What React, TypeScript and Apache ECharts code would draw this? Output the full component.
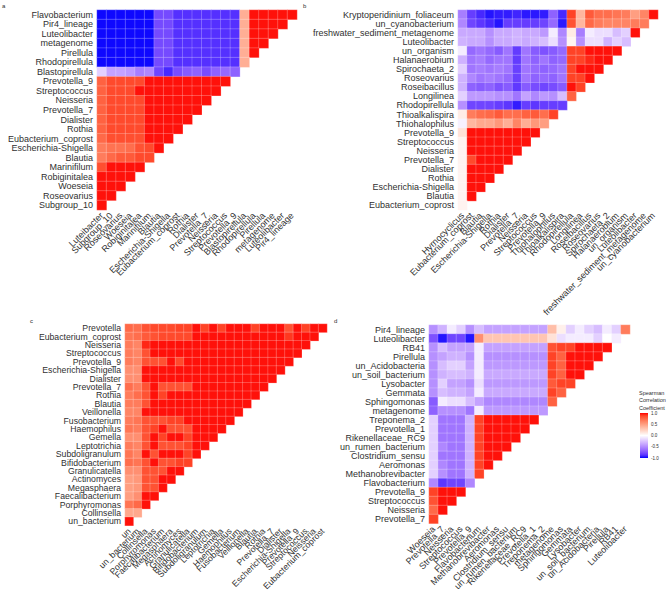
import React, { useEffect, useRef } from "react";
import * as echarts from "echarts";

const R = 0.97;

// ---------- Panel a ----------
const aCols = ["Luteibacter", "Subgroup_10", "Roseovarius", "Woeseia", "Robiginitalea", "Marinifilum", "Blautia", "Escherichia-Shigella", "Eubacterium_coprost", "Rothia", "Dialister", "Prevotella_7", "Neisseria", "Streptococcus", "Prevotella_9", "Blastopirellula", "Rhodopirellula", "Pirellula", "metagenome", "Luteolibacter", "Pir4_lineage"];
const aRows = ["Flavobacterium", "Pir4_lineage", "Luteolibacter", "metagenome", "Pirellula", "Rhodopirellula", "Blastopirellula", "Prevotella_9", "Streptococcus", "Neisseria", "Prevotella_7", "Dialister", "Rothia", "Eubacterium_coprost", "Escherichia-Shigella", "Blautia", "Marinifilum", "Robiginitalea", "Woeseia", "Roseovarius", "Subgroup_10"];
const aVals = [
  [-0.98, -0.98, -0.98, -0.98, -0.98, -0.98, -0.78, -0.78, -0.88, -0.88, -0.88, -0.88, -0.88, -0.88, -0.88, 0.42, R, R, R, R, R],
  [-0.98, -0.98, -0.98, -0.98, -0.98, -0.98, -0.78, -0.78, -0.88, -0.88, -0.88, -0.88, -0.88, -0.88, -0.88, 0.42, R, R, R, R],
  [-0.98, -0.98, -0.98, -0.98, -0.98, -0.98, -0.78, -0.78, -0.88, -0.88, -0.88, -0.88, -0.88, -0.88, -0.88, 0.42, R, R, R],
  [-0.98, -0.98, -0.98, -0.98, -0.98, -0.98, -0.78, -0.78, -0.88, -0.88, -0.88, -0.88, -0.88, -0.88, -0.88, 0.42, R, R],
  [-0.98, -0.98, -0.98, -0.98, -0.98, -0.98, -0.78, -0.78, -0.88, -0.88, -0.88, -0.88, -0.88, -0.88, -0.88, 0.42, R],
  [-0.98, -0.98, -0.98, -0.98, -0.98, -0.98, -0.78, -0.78, -0.88, -0.88, -0.88, -0.88, -0.88, -0.88, -0.88, 0.42],
  [-0.2, -0.4, -0.4, -0.44, -0.56, -0.52, -0.8, -0.9, -0.77, -0.71, -0.68, -0.77, -0.68, -0.65, -0.68],
  [0.77, 0.86, 0.86, 0.86, 0.86, R, R, R, R, R, R, R, R, R],
  [0.77, 0.86, 0.86, 0.86, R, R, R, R, R, R, R, R, R],
  [0.77, 0.86, 0.86, 0.86, 0.86, R, R, R, R, R, R, R],
  [0.77, 0.86, 0.86, 0.86, 0.86, R, R, R, R, R, R],
  [0.77, 0.86, 0.86, 0.86, 0.86, R, R, R, R, R],
  [0.77, 0.86, 0.86, 0.86, 0.86, R, R, R, R],
  [0.74, 0.84, 0.84, 0.84, 0.84, R, R, R],
  [0.66, 0.7, 0.7, 0.72, 0.83, 0.86, R],
  [0.66, 0.74, 0.8, 0.8, 0.86, 0.86],
  [0.84, R, R, R, R],
  [R, R, R, R],
  [R, R, R],
  [R, R],
  [R],
];

// ---------- Panel b ----------
const bCols = ["Hyrnocyclicus", "Eubacterium_coprost", "Blautia", "Escherichia-Shigella", "Rothia", "Dialister", "Prevotella_7", "Neisseria", "Streptococcus", "Prevotella_9", "Thiohalophilus", "Thioalkalispira", "Rhodopirellula", "Longilinea", "Roseibacillus", "Roseovarius", "Spirochaeta_2", "Halanaerobium", "un_organism", "Luteolibacter", "freshwater_sediment_metagenome", "un_cyanobacterium"];
const bRows = ["Kryptoperidinium_foliaceum", "un_cyanobacterium", "freshwater_sediment_metagenome", "Luteolibacter", "un_organism", "Halanaerobium", "Spirochaeta_2", "Roseovarius", "Roseibacillus", "Longilinea", "Rhodopirellula", "Thioalkalispira", "Thiohalophilus", "Prevotella_9", "Streptococcus", "Neisseria", "Prevotella_7", "Dialister", "Rothia", "Escherichia-Shigella", "Blautia", "Eubacterium_coprost"];
const bVals = [
  [-0.56, -0.83, -0.9, -0.95, -0.93, -0.93, -0.91, -0.94, -0.94, -0.93, -0.68, -0.9, 0.88, 0.38, 0.8, 0.72, 0.72, 0.69, 0.66, 0.5, 0.62, R],
  [-0.52, -0.8, -0.86, -0.9, -0.95, -0.83, -0.83, -0.83, -0.83, -0.8, -0.65, -0.94, 0.83, 0.38, 0.74, 0.66, 0.62, 0.62, 0.62, 0.66, 0.66],
  [-0.37, -0.37, -0.37, -0.48, -0.37, -0.37, -0.33, -0.37, -0.37, -0.44, -0.08, -0.52, 0.1, -0.56, -0.08, -0.14, -0.14, -0.28, -0.2, R],
  [-0.33, -0.37, -0.37, -0.48, -0.37, -0.37, -0.33, -0.37, -0.33, -0.28, -0.14, -0.48, 0.05, -0.48, -0.14, -0.14, -0.33, -0.2, -0.28],
  [-0.08, -0.65, -0.6, -0.65, -0.71, -0.6, -0.84, -0.6, -0.71, -0.75, -0.71, -0.65, 0.88, 0.88, R, R, R, R],
  [-0.33, -0.6, -0.56, -0.65, -0.6, -0.6, -0.84, -0.6, -0.68, -0.6, -0.68, -0.65, 0.88, 0.88, 0.93, R, R],
  [-0.2, -0.6, -0.56, -0.6, -0.56, -0.6, -0.82, -0.6, -0.65, -0.68, -0.65, -0.6, 0.88, R, R, R],
  [-0.33, -0.52, -0.6, -0.56, -0.6, -0.65, -0.82, -0.6, -0.68, -0.65, -0.68, -0.6, 0.88, 0.88, R],
  [-0.33, -0.68, -0.71, -0.68, -0.75, -0.71, -0.85, -0.71, -0.77, -0.8, -0.77, -0.71, R, 0.88],
  [-0.2, -0.44, -0.44, -0.44, -0.48, -0.48, -0.6, -0.4, -0.52, -0.44, -0.48, -0.28, 0.77],
  [-0.48, -0.8, -0.8, -0.8, -0.83, -0.86, -0.93, -0.83, -0.86, -0.83, -0.83, -0.83],
  [0.1, 0.66, 0.72, 0.74, 0.8, 0.72, 0.72, 0.77, 0.8, 0.72, 0.88],
  [-0.06, 0.38, 0.45, 0.45, 0.53, 0.42, 0.62, 0.42, 0.53, 0.5],
  [0.15, R, R, R, R, R, R, R, R],
  [0.06, R, R, R, R, R, R, R],
  [0.06, R, R, R, R, R, R],
  [0.06, 0.86, R, R, R, R],
  [0.06, R, R, R, R],
  [0.06, R, R, R],
  [0.06, R, R],
  [0.06, R],
  [0.06],
];

// ---------- Panel c ----------
const cCols = ["un", "un_bacterium", "Collinsella", "Porphyromonas", "Faecalibacterium", "Megasphaera", "Actinomyces", "Granulicatella", "Bifidobacterium", "Subdoligranulum", "Leptotrichia", "Gemella", "Haemophilus", "Fusobacterium", "Veillonella", "Blautia", "Rothia", "Prevotella_7", "Dialister", "Escherichia-Shigella", "Prevotella_9", "Streptococcus", "Neisseria", "Eubacterium_coprost"];
const cRows = ["Prevotella", "Eubacterium_coprost", "Neisseria", "Streptococcus", "Prevotella_9", "Escherichia-Shigella", "Dialister", "Prevotella_7", "Rothia", "Blautia", "Veillonella", "Fusobacterium", "Haemophilus", "Gemella", "Leptotrichia", "Subdoligranulum", "Bifidobacterium", "Granulicatella", "Actinomyces", "Megasphaera", "Faecalibacterium", "Porphyromonas", "Collinsella", "un_bacterium"];
const cVals = [
  [0.74, 0.72, 0.83, 0.86, 0.86, 0.86, 0.88, 0.88, R, 0.88, R, 0.88, R, R, R, 0.88, R, R, R, 0.83, R, 0.88, R, R],
  [0.69, 0.72, 0.8, 0.83, 0.86, 0.86, 0.86, 0.86, R, R, R, R, R, R, R, R, R, R, R, 0.9, R, R, R],
  [0.66, 0.62, 0.93, R, R, R, R, R, R, R, R, R, R, R, R, R, R, R, R, R, R, R],
  [0.66, 0.62, 0.83, R, R, R, R, R, R, R, R, R, R, R, R, R, R, R, R, R, R],
  [0.66, 0.62, 0.83, 0.83, 0.83, R, 0.86, R, R, R, R, R, R, R, R, R, R, R, R, R],
  [0.57, 0.57, R, R, R, R, R, R, R, R, R, R, R, R, R, R, R, R, R],
  [0.57, 0.57, R, R, R, R, R, R, R, R, R, R, R, R, R, R, R, R],
  [0.72, 0.66, 0.83, R, 0.83, 0.83, 0.83, 0.83, R, R, R, R, R, R, R, R, R],
  [0.66, 0.72, 0.83, R, 0.88, R, R, R, R, R, R, R, R, R, R, R],
  [0.66, 0.66, 0.83, R, R, R, R, R, R, R, R, R, R, R, R],
  [0.62, 0.62, R, R, R, R, R, R, R, R, R, R, R, R],
  [0.66, 0.69, 0.83, 0.83, 0.83, 0.88, 0.88, R, R, R, R, R, R],
  [0.69, 0.66, 0.83, 0.88, R, 0.83, 0.83, 0.83, R, R, R, R],
  [0.57, 0.57, 0.83, R, 0.88, R, R, 0.88, R, R, R],
  [0.66, 0.62, 0.83, R, 0.83, 0.83, 0.83, 0.88, R, R],
  [0.69, 0.62, R, 0.83, R, R, R, 0.88, R],
  [0.72, 0.69, 0.83, R, 0.83, 0.83, 0.88, 0.88],
  [0.57, 0.57, 0.83, 0.83, 0.83, R, R],
  [0.5, 0.53, 0.83, 0.83, R, R],
  [0.5, 0.53, 0.83, 0.83, R],
  [0.5, 0.57, R, R],
  [0.69, 0.74, R],
  [0.45, 0.45],
  [R],
];

// ---------- Panel d ----------
const dCols = ["Woeseia", "Prevotella_7", "Neisseria", "Streptococcus", "Prevotella_9", "Flavobacterium", "Methanobrevibacter", "Aeromonas", "Clostridium_sensu", "un_rumen_bacterium", "Rikenellaceae_RC9", "Prevotella_1", "Treponema_2", "metagenome", "Sphingomonas", "Gemmata", "Lysobacter", "un_soil_bacterium", "un_Acidobacteria", "Pirellula", "RB41", "Luteolibacter"];
const dRows = ["Pir4_lineage", "Luteolibacter", "RB41", "Pirellula", "un_Acidobacteria", "un_soil_bacterium", "Lysobacter", "Gemmata", "Sphingomonas", "metagenome", "Treponema_2", "Prevotella_1", "Rikenellaceae_RC9", "un_rumen_bacterium", "Clostridium_sensu", "Aeromonas", "Methanobrevibacter", "Flavobacterium", "Prevotella_9", "Streptococcus", "Neisseria", "Prevotella_7"];
const dVals = [
  [-0.48, -0.33, -0.08, -0.2, -0.48, -0.28, -0.4, -0.4, -0.4, -0.4, -0.4, -0.4, -0.4, 0.34, 0.08, -0.2, -0.08, -0.2, -0.28, -0.08, -0.2, 0.66],
  [-0.75, -0.95, -0.8, -0.8, -0.95, 0.57, 0.3, 0.3, 0.3, 0.3, 0.3, 0.3, 0.3, 0.15, -0.14, -0.08, -0.08, -0.08, -0.2, 0, -0.08],
  [-0.48, -0.28, -0.4, -0.4, -0.4, -0.08, -0.4, -0.4, -0.4, -0.4, -0.4, -0.4, -0.4, 0.83, 0.88, 0.88, R, R, R, R],
  [-0.48, -0.4, -0.33, -0.33, -0.48, -0.08, -0.48, -0.48, -0.48, -0.48, -0.48, -0.48, -0.48, 0.88, 0.77, R, R, R, R],
  [-0.48, -0.28, -0.2, -0.2, -0.4, -0.08, -0.44, -0.44, -0.44, -0.44, -0.44, -0.44, -0.44, 0.88, 0.77, R, R, R],
  [-0.48, -0.33, -0.28, -0.28, -0.33, -0.08, -0.37, -0.37, -0.37, -0.37, -0.37, -0.37, -0.37, 0.88, 0.77, R, R],
  [-0.48, -0.2, -0.4, -0.4, -0.48, -0.14, -0.44, -0.44, -0.44, -0.44, -0.44, -0.44, -0.44, 0.8, 0.88, 0.88],
  [-0.48, -0.28, -0.33, -0.33, -0.4, -0.08, -0.37, -0.37, -0.37, -0.37, -0.37, -0.37, -0.37, 0.88, 0.77],
  [-0.71, -0.08, -0.14, -0.14, -0.28, -0.4, -0.52, -0.52, -0.52, -0.52, -0.52, -0.52, -0.52, 0.77],
  [-0.68, -0.48, -0.48, -0.48, -0.6, -0.08, -0.44, -0.44, -0.44, -0.44, -0.44, -0.44, -0.44],
  [-0.2, -0.6, -0.6, -0.6, -0.33, 0.88, R, R, R, R, R, R],
  [-0.2, -0.6, -0.6, -0.6, -0.33, 0.88, R, R, R, R, R],
  [-0.2, -0.6, -0.6, -0.6, -0.33, 0.88, R, R, R, R],
  [-0.2, -0.52, -0.6, -0.6, -0.33, 0.88, R, R, R],
  [-0.2, -0.6, -0.6, -0.6, -0.33, 0.88, R, R],
  [-0.2, -0.52, -0.6, -0.6, -0.33, 0.88, R],
  [-0.2, -0.48, -0.6, -0.6, -0.33, 0.88],
  [-0.52, -0.86, -0.8, -0.8, -0.52],
  [0.88, R, R, R],
  [0.83, R, R],
  [0.74, R],
  [0.88],
];

// ---------- Legend ----------
const legendTitle = "Spearman\nCorrelation\nCoefficient";
const legendTicks = ["1.0", "0.5", "0.0", "-0.5", "-1.0"];
// blue - white - red gradient (Lab-interpolated stops, evenly spaced from -1 to 1)
const scaleColors = [
  "#0000FF", "#5932FF", "#7E51FF", "#9B6FFF", "#B38BFF", "#C8A8FF", "#DCC4FF", "#EEE2FF",
  "#FFFFFF",
  "#FFE7DF", "#FFCFBE", "#FFB7A0", "#FF9E81", "#FF8464", "#FF6746", "#FF4628", "#FF0000",
];
const panelLetters = ["a", "b", "c", "d"];

const FONT = "Liberation Sans, Arial, Helvetica, sans-serif";
const TXT = "#303030";

function toCells(vals: number[][]) {
  const out: number[][] = [];
  vals.forEach((row, r) => row.forEach((v, c) => out.push([c, r, v])));
  return out;
}

const panels = [
  { cols: aCols, rows: aRows, vals: aVals, left: 97, top: 10, w: 200, h: 200, lx: 2, ly: 3, fs: 9 },
  { cols: bCols, rows: bRows, vals: bVals, left: 458, top: 10, w: 200, h: 200, lx: 303, ly: 3, fs: 9 },
  { cols: cCols, rows: cRows, vals: cVals, left: 125, top: 324, w: 202, h: 202, lx: 30, ly: 318, fs: 8.7 },
  { cols: dCols, rows: dRows, vals: dVals, left: 429, top: 325, w: 201, h: 201, lx: 334, ly: 318, fs: 9 },
];

export default function App() {
  const ref = useRef<HTMLDivElement>(null);
  useEffect(() => {
    if (!ref.current) return;
    const chart = echarts.init(ref.current, undefined, { renderer: "svg" });
    const grid = panels.map((p) => ({ left: p.left, top: p.top, width: p.w, height: p.h }));
    const xAxis = panels.map((p, i) => ({
      type: "category",
      gridIndex: i,
      data: p.cols,
      axisLine: { show: false },
      axisTick: { show: false },
      splitLine: { show: false },
      axisLabel: { rotate: 45, interval: 0, fontSize: p.fs, color: TXT, margin: 4, fontFamily: FONT },
    }));
    const yAxis = panels.map((p, i) => ({
      type: "category",
      gridIndex: i,
      data: p.rows,
      inverse: true,
      axisLine: { show: false },
      axisTick: { show: false },
      splitLine: { show: false },
      axisLabel: { interval: 0, fontSize: p.fs, color: TXT, margin: 4, fontFamily: FONT },
    }));
    const series = panels.map((p, i) => ({
      type: "heatmap",
      xAxisIndex: i,
      yAxisIndex: i,
      data: toCells(p.vals),
      itemStyle: { borderColor: "rgba(255,255,255,0.45)", borderWidth: 0.5 },
      emphasis: { disabled: true },
    }));
    const barTop = 413;
    const barH = 45;
    const stops = scaleColors
      .slice()
      .reverse()
      .map((c, i) => ({ offset: i / (scaleColors.length - 1), color: c }));
    const graphic: any[] = [];
    panels.forEach((p, i) => {
      graphic.push({
        type: "text",
        x: p.lx,
        y: p.ly,
        style: { text: panelLetters[i], fontSize: 6, fill: TXT, fontFamily: FONT },
      });
    });
    graphic.push({
      type: "text",
      x: 639,
      y: 389.5,
      style: { text: legendTitle, fontSize: 5.5, lineHeight: 7.2, fill: TXT, fontFamily: FONT },
    });
    graphic.push({
      type: "rect",
      x: 640,
      y: barTop,
      shape: { width: 8, height: barH },
      style: { fill: new echarts.graphic.LinearGradient(0, 0, 0, 1, stops) },
    });
    legendTicks.forEach((t, i) => {
      graphic.push({
        type: "text",
        x: 651,
        y: barTop + (barH * i) / (legendTicks.length - 1),
        style: { text: t, fontSize: 4.5, fill: TXT, fontFamily: FONT, verticalAlign: "middle" },
      });
    });
    chart.setOption({
      animation: false,
      backgroundColor: "#ffffff",
      textStyle: { fontFamily: FONT },
      grid,
      xAxis,
      yAxis,
      visualMap: {
        show: false,
        type: "continuous",
        min: -1,
        max: 1,
        seriesIndex: [0, 1, 2, 3],
        inRange: { color: scaleColors },
      },
      series,
      graphic,
    } as any);
    return () => chart.dispose();
  }, []);
  return (
    <div
      ref={ref}
      style={{ position: "fixed", left: 0, top: 0, width: 669, height: 593, background: "#fff" }}
    />
  );
}
